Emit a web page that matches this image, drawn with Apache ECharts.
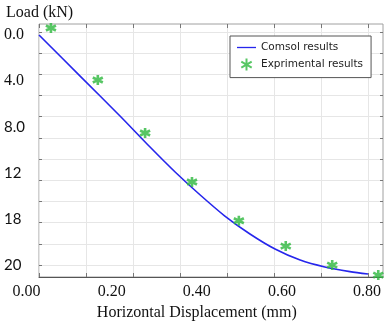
<!DOCTYPE html>
<html>
<head>
<meta charset="utf-8">
<script src="https://cdn.jsdelivr.net/npm/echarts@6/dist/echarts.min.js"></script>
<style>html,body{margin:0;padding:0;background:#fff;}#c{width:392px;height:326px;}</style>
</head>
<body>
<div id="c"></div>
<script>
// ---- data ----
const comsolX = [0, 0.100, 0.197, 0.270, 0.331, 0.392, 0.452, 0.513, 0.574, 0.635, 0.695, 0.756, 0.800];
const comsolY = [0, 3.57, 7.04, 9.74, 11.91, 13.91, 15.74, 17.30, 18.61, 19.57, 20.17, 20.57, 20.78];
const expX = [0.029, 0.143, 0.258, 0.372, 0.486, 0.600, 0.713, 0.825];
const expY = [-0.61, 3.91, 8.52, 12.78, 16.15, 18.35, 20.0, 20.87];
const xTickLabels = ['0.00', '0.20', '0.40', '0.60', '0.80'];
const yTickLabels = ['0.0', '4.0', '8.0', '12', '18', '20'];
const seriesNames = ['Comsol results', 'Exprimental results'];

const X_MAX = 0.8365, Y_MIN = -0.957, Y_MAX = 21.04;
const serif = 'Liberation Serif';
const green = '#2db83d';
const blue = '#2626ec';
const starPath = 'path://M5,0L5,10M0.67,2.5L9.33,7.5M0.67,7.5L9.33,2.5';
const hidden = { type: 'value', show: false, min: 0, max: 1 };

const chart = echarts.init(document.getElementById('c'));
chart.setOption({
  animation: false,
  backgroundColor: '#fff',
  title: { text: 'Load (kN)', left: 0, top: 1, padding: [4, 6],
    textStyle: { fontFamily: serif, fontSize: 16, fontWeight: 'normal', color: '#111' } },
  legend: {
    left: 230, top: 36, orient: 'vertical',
    padding: [6, 8, 6, 7], itemGap: 4.6, itemWidth: 19, itemHeight: 12,
    backgroundColor: '#fff', borderColor: '#555', borderWidth: 1, borderRadius: 0,
    textStyle: { fontFamily: 'DejaVu Sans', fontSize: 10.5, color: '#222' },
    data: [
      { name: seriesNames[0], icon: 'path://M0,0H19V1.3H0Z', itemStyle: { color: blue } },
      { name: seriesNames[1] }
    ]
  },
  grid: [
    { left: 39, top: 24, width: 344, height: 253, show: true, borderColor: '#a0a0a0', borderWidth: 1, backgroundColor: 'transparent' },
    { left: 39, top: 24, width: 329, height: 253 },
    { left: 39, top: 32, width: 344, height: 233 },
    { left: 26.6, top: 24, width: 340.4, height: 253 },
    { left: 39, top: 35, width: 344, height: 230 }
  ],
  xAxis: [
    { gridIndex: 0, type: 'value', min: 0, max: X_MAX,
      axisLine: { show: true, onZero: false, lineStyle: { color: '#555', width: 1 } },
      axisTick: { show: false }, axisLabel: { show: false }, splitLine: { show: false } },
    { gridIndex: 1, type: 'value', min: 0, max: 7, interval: 1, position: 'bottom',
      axisLine: { show: false }, axisLabel: { show: false },
      axisTick: { show: true, inside: true, length: 4, lineStyle: { color: '#777' } },
      splitLine: { show: true, lineStyle: { color: '#e6e6e6', width: 1 } } },
    { gridIndex: 1, type: 'value', min: 0, max: 7, interval: 1, position: 'top',
      axisLine: { show: false }, axisLabel: { show: false },
      axisTick: { show: true, inside: true, length: 4, lineStyle: { color: '#777' } },
      splitLine: { show: false } },
    Object.assign({ gridIndex: 2 }, hidden),
    { gridIndex: 3, type: 'value', min: 0, max: 0.8, interval: 0.2, position: 'bottom',
      axisLine: { show: false }, axisTick: { show: false }, splitLine: { show: false },
      axisLabel: { show: true, margin: 12, fontFamily: serif, fontSize: 16, color: '#111',
        formatter: v => xTickLabels[Math.round(v / 0.2)] },
      name: 'Horizontal Displacement (mm)', nameLocation: 'middle', nameGap: 30,
      nameTextStyle: { fontFamily: serif, fontSize: 16, color: '#111' } },
    Object.assign({ gridIndex: 4 }, hidden)
  ],
  yAxis: [
    { gridIndex: 0, type: 'value', min: Y_MIN, max: Y_MAX, inverse: true, show: false },
    Object.assign({ gridIndex: 1 }, hidden),
    { gridIndex: 2, type: 'value', min: 0, max: 11, interval: 1, position: 'left',
      axisLine: { show: false }, axisLabel: { show: false },
      axisTick: { show: true, inside: true, length: 3, lineStyle: { color: '#777' } },
      splitLine: { show: true, lineStyle: { color: '#e6e6e6', width: 1 } } },
    { gridIndex: 2, type: 'value', min: 0, max: 11, interval: 1, position: 'right',
      axisLine: { show: false }, axisLabel: { show: false },
      axisTick: { show: true, inside: true, length: 3, lineStyle: { color: '#777' } },
      splitLine: { show: false } },
    Object.assign({ gridIndex: 3 }, hidden),
    { gridIndex: 4, type: 'value', min: 0, max: 20, interval: 4, inverse: true, position: 'left',
      axisLine: { show: false }, axisTick: { show: false }, splitLine: { show: false },
      axisLabel: { show: true, align: 'left', margin: 35, color: '#111',
        formatter: v => {
          const i = Math.round(v / 4);
          return i < 2 ? '{s|' + yTickLabels[i] + '}' : '{n|' + yTickLabels[i] + '}';
        },
        rich: {
          s: { fontFamily: serif, fontSize: 16, color: '#111' },
          n: { fontFamily: 'Lato', fontSize: 15, color: '#111' }
        } } }
  ],
  series: [
    { name: seriesNames[0], type: 'line', xAxisIndex: 0, yAxisIndex: 0,
      data: comsolX.map((x, i) => [x, comsolY[i]]),
      symbol: 'none', smooth: 0.3, z: 3,
      lineStyle: { color: blue, width: 1.6 }, itemStyle: { color: blue } },
    { name: seriesNames[1], type: 'scatter', xAxisIndex: 0, yAxisIndex: 0,
      data: expX.map((x, i) => [x, expY[i]]),
      symbol: starPath, symbolSize: 10, z: 4,
      itemStyle: { color: green, borderColor: green, borderWidth: 2.6 } }
  ]
});
</script>
</body>
</html>
